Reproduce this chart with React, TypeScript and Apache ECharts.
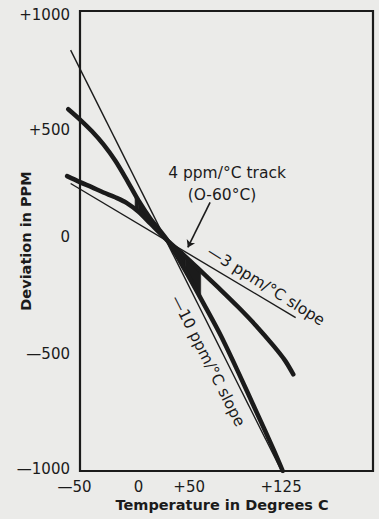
import React, { useEffect, useRef } from 'react';
import * as echarts from 'echarts';

// Steep compensated curve (thick)
const steepTemps = [-60, -50, -40, -30, -20, -10, 0, 10, 25, 40, 55, 70, 85, 100, 115, 123];
const steepPpm = [573, 528, 478, 420, 350, 265, 175, 98, 0, -130, -268, -410, -570, -737, -905, -1000];
// Shallow curve (thick)
const shallowTemps = [-61, -50, -40, -30, -20, -10, 0, 10, 25, 40, 55, 70, 85, 100, 115, 125, 132];
const shallowPpm = [282, 256, 234, 211, 190, 165, 127, 76, 0, -68, -140, -212, -287, -367, -455, -520, -580];
// Reference slope lines (thin)
const slope10Temps = [-58, 122];
const slope10Ppm = [830, -1000];
const slope3Temps = [-58, 134];
const slope3Ppm = [250, -333];
// Filled 4 ppm/°C track between the curves
const trackTemps = [-3, 0, 10, 25, 40, 53];
const trackHigh = [202, 175, 98, 0, -68, -131];
const trackLow = [138, 127, 76, 0, -130, -250];
// Annotation arrow (data coords)
const arrowFrom = [61, 168];
const arrowTo = [42, -28];

const xTickLabels: Record<string, string> = { '-50': '{a|—50}', '0': '0', '50': '{b|+50}', '125': '{c|+125}' };
const yTickLabels: Record<string, string> = {
  '1000': '{p|+1000}', '500': '{p|+500}', '0': '{z|0}', '-500': '{m|—500}', '-1000': '{n|—1000}',
};

const ink = '#1b1b1b';
const font = 'DejaVu Sans';

export default function App() {
  const ref = useRef<HTMLDivElement>(null);
  useEffect(() => {
    if (!ref.current) return;
    const chart = echarts.init(ref.current, null, { renderer: 'svg' });
    const thick = { color: ink, width: 4.5, cap: 'round', join: 'round' };
    const thin = { color: ink, width: 1.4 };
    const lbl = { fontFamily: font, fontSize: 15, color: ink };
    // plot scale: 293px for 250 degC -> grid 1 extends 15 degC further left
    const ext = 15 * 293 / 250;
    chart.setOption({
      animation: false,
      backgroundColor: '#ebebe9',
      grid: [
        {
          left: 80, right: 6, top: 11, bottom: 48,
          containLabel: false, outerBoundsMode: 'none',
          show: true, borderColor: ink, borderWidth: 2.2, backgroundColor: 'transparent',
        },
        {
          left: 80 - ext, right: 6, top: 11, bottom: 48,
          containLabel: false, outerBoundsMode: 'none', show: false,
        },
      ],
      xAxis: [
        {
          gridIndex: 0, type: 'value', min: -50, max: 200, interval: 25,
          axisLine: { show: false }, axisTick: { show: false }, splitLine: { show: false },
          axisLabel: {
            margin: 8, ...lbl,
            formatter: (v: number) => xTickLabels[String(v)] ?? '',
            rich: {
              a: { ...lbl, padding: [0, 11, 0, 0] },
              b: { ...lbl, padding: [0, 16, 0, 0] },
              c: { ...lbl, padding: [0, 8, 0, 0] },
            },
          },
          name: 'Temperature in Degrees C', nameLocation: 'middle', nameGap: 26, nameMoveOverlap: false,
          nameTextStyle: { fontFamily: font, fontWeight: 'bold', fontSize: 14.5, color: ink, padding: [0, 9, 0, 0] },
        },
        { gridIndex: 1, type: 'value', min: -65, max: 200, show: false, splitLine: { show: false } },
      ],
      yAxis: [
        {
          gridIndex: 0, type: 'value', min: -1000, max: 1000, interval: 500,
          axisLine: { show: false }, axisTick: { show: false }, splitLine: { show: false },
          axisLabel: {
            margin: 10, ...lbl,
            formatter: (v: number) => yTickLabels[String(v)] ?? '',
            rich: {
              p: { ...lbl, padding: [8, 0, 0, 0] },
              z: { ...lbl, padding: [0, 0, 8, 0] },
              m: { ...lbl, padding: [0, 0, 4, 0] },
              n: { ...lbl, padding: [0, 0, 5, 0] },
            },
          },
          name: 'Deviation in PPM', nameLocation: 'middle', nameGap: 47, nameMoveOverlap: false,
          nameTextStyle: { fontFamily: font, fontWeight: 'bold', fontSize: 14.5, color: ink },
        },
        { gridIndex: 1, type: 'value', min: -1000, max: 1000, show: false, splitLine: { show: false } },
      ],
      series: [
        {
          type: 'custom', coordinateSystem: 'cartesian2d', xAxisIndex: 1, yAxisIndex: 1, silent: true, z: 1,
          data: trackTemps.slice(0, -1).map((t, i) => [t, trackHigh[i], trackLow[i]]),
          encode: { x: 0, y: [1, 2] },
          renderItem: (params: any, api: any) => {
            const i = params.dataIndex;
            const pts = [
              api.coord([trackTemps[i], trackHigh[i]]),
              api.coord([trackTemps[i + 1], trackHigh[i + 1]]),
              api.coord([trackTemps[i + 1], trackLow[i + 1]]),
              api.coord([trackTemps[i], trackLow[i]]),
            ];
            return { type: 'polygon', shape: { points: pts }, style: { fill: ink, stroke: ink, lineWidth: 0.6 } };
          },
        },
        {
          type: 'line', name: 'steep', xAxisIndex: 1, yAxisIndex: 1, showSymbol: false, smooth: 0.3, z: 2,
          data: steepTemps.map((t, i) => [t, steepPpm[i]]), lineStyle: thick,
        },
        {
          type: 'line', name: 'shallow', xAxisIndex: 1, yAxisIndex: 1, showSymbol: false, smooth: 0.3, z: 2,
          data: shallowTemps.map((t, i) => [t, shallowPpm[i]]), lineStyle: thick,
        },
        {
          type: 'line', name: '-10 slope', xAxisIndex: 1, yAxisIndex: 1, showSymbol: false, z: 3,
          data: slope10Temps.map((t, i) => [t, slope10Ppm[i]]), lineStyle: thin,
        },
        {
          type: 'line', name: '-3 slope', xAxisIndex: 1, yAxisIndex: 1, showSymbol: false, z: 3,
          data: slope3Temps.map((t, i) => [t, slope3Ppm[i]]), lineStyle: thin,
        },
        {
          type: 'lines', coordinateSystem: 'cartesian2d', xAxisIndex: 1, yAxisIndex: 1, z: 4, silent: true,
          symbol: ['none', 'arrow'], symbolSize: 7,
          lineStyle: { color: ink, width: 1.6, opacity: 1 },
          data: [{ coords: [arrowFrom, arrowTo] }],
        },
      ],
      graphic: [
        { type: 'text', x: 227, y: 173, style: { text: '4 ppm/°C track', font: `15.5px "${font}"`, fill: ink, align: 'center', verticalAlign: 'middle' } },
        { type: 'text', x: 222, y: 195, style: { text: '(O-60°C)', font: `15.5px "${font}"`, fill: ink, align: 'center', verticalAlign: 'middle' } },
        { type: 'text', x: 266, y: 286, rotation: -32 * Math.PI / 180, style: { text: '—3 ppm/°C slope', font: `15.5px "${font}"`, fill: ink, align: 'center', verticalAlign: 'middle' } },
        { type: 'text', x: 208, y: 361, rotation: -63 * Math.PI / 180, style: { text: '—10 ppm/°C slope', font: `15.5px "${font}"`, fill: ink, align: 'center', verticalAlign: 'middle' } },
      ],
    });
    return () => chart.dispose();
  }, []);
  return <div ref={ref} style={{ position: 'absolute', left: 0, top: 0, width: 379, height: 519 }} />;
}
